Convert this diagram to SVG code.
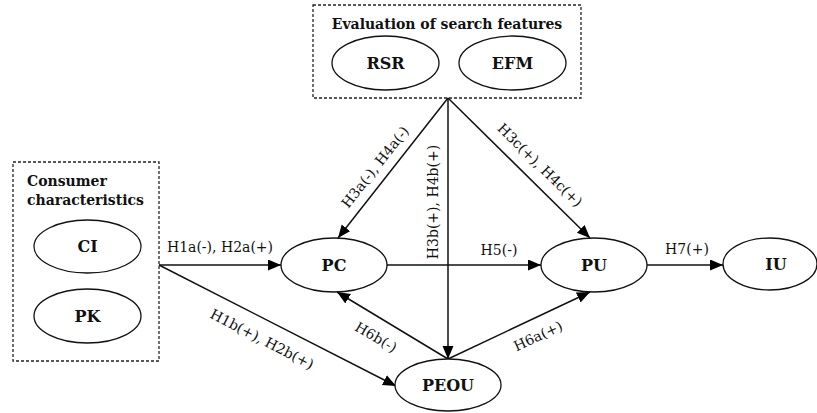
<svg xmlns="http://www.w3.org/2000/svg" width="817" height="413" viewBox="0 0 817 413">
  <style>
    .frame { fill: none; stroke: #222; stroke-width: 1.3; stroke-dasharray: 3 2; }
    .node ellipse { fill: #fff; stroke: #111; stroke-width: 1.3; }
    .node text { font-family: "DejaVu Serif", "Liberation Serif", serif; font-weight: bold; font-size: 16px; text-anchor: middle; fill: #111; }
    .title { font-family: "DejaVu Serif", "Liberation Serif", serif; font-weight: bold; font-size: 14px; fill: #111; }
    .edge { fill: none; stroke: #111; stroke-width: 1.5; marker-end: url(#arrow); }
    .lbl { font-family: "DejaVu Serif", "Liberation Serif", serif; font-size: 14px; text-anchor: middle; fill: #111; }
  </style>
  <defs>
    <marker id="arrow" markerUnits="userSpaceOnUse" markerWidth="14" markerHeight="12" refX="13" refY="5.5" orient="auto">
      <path d="M0,0 L13,5.5 L0,11 z" fill="#000"/>
    </marker>
  </defs>
  <rect width="817" height="413" fill="#fff"/>

  <!-- group frames -->
  <g id="search-features">
    <rect class="frame" x="313" y="5" width="268" height="93"/>
    <text class="title" x="447" y="29" text-anchor="middle">Evaluation of search features</text>
  </g>
  <g id="consumer-characteristics">
    <rect class="frame" x="13" y="162" width="146" height="199"/>
    <text class="title" x="27" y="186">Consumer</text>
    <text class="title" x="27" y="205">characteristics</text>
  </g>

  <!-- connectors -->
  <g id="connectors">
    <line class="edge" x1="159" y1="265" x2="281" y2="265"/>
    <line class="edge" x1="159" y1="265" x2="396" y2="386"/>
    <line class="edge" x1="448" y1="98" x2="338" y2="238"/>
    <line class="edge" x1="448" y1="98" x2="448" y2="359"/>
    <line class="edge" x1="448" y1="98" x2="590" y2="238"/>
    <line class="edge" x1="387" y1="265" x2="541" y2="265"/>
    <line class="edge" x1="448" y1="359" x2="337" y2="292"/>
    <line class="edge" x1="448" y1="359" x2="590" y2="292"/>
    <line class="edge" x1="647" y1="265" x2="723" y2="265"/>

    <text class="lbl" x="220" y="252">H1a(-), H2a(+)</text>
    <text class="lbl" transform="translate(262,339) rotate(27.3)" y="5">H1b(+), H2b(+)</text>
    <text class="lbl" transform="translate(375,167) rotate(-51.6)" y="5">H3a(-), H4a(-)</text>
    <text class="lbl" transform="translate(433,202) rotate(-90)" y="5">H3b(+), H4b(+)</text>
    <text class="lbl" transform="translate(540,165) rotate(44.4)" y="5">H3c(+), H4c(+)</text>
    <text class="lbl" x="499" y="255">H5(-)</text>
    <text class="lbl" transform="translate(376,337) rotate(30.7)" y="5">H6b(-)</text>
    <text class="lbl" transform="translate(538,336) rotate(-24.9)" y="5">H6a(+)</text>
    <text class="lbl" x="687" y="254">H7(+)</text>
  </g>

  <!-- constructs -->
  <g id="RSR" class="node">
    <ellipse cx="385.5" cy="63" rx="53.5" ry="27"/>
    <text x="385.5" y="69">RSR</text>
  </g>
  <g id="EFM" class="node">
    <ellipse cx="512.5" cy="63" rx="53.5" ry="27"/>
    <text x="512.5" y="69">EFM</text>
  </g>
  <g id="CI" class="node">
    <ellipse cx="87.5" cy="246.5" rx="53.5" ry="26.5"/>
    <text x="87.5" y="252">CI</text>
  </g>
  <g id="PK" class="node">
    <ellipse cx="87.5" cy="316" rx="53.5" ry="27"/>
    <text x="87.5" y="322">PK</text>
  </g>
  <g id="PC" class="node">
    <ellipse cx="334" cy="265" rx="53" ry="27"/>
    <text x="334" y="271">PC</text>
  </g>
  <g id="PU" class="node">
    <ellipse cx="594" cy="265" rx="53" ry="27"/>
    <text x="594" y="271">PU</text>
  </g>
  <g id="IU" class="node">
    <ellipse cx="770" cy="264" rx="47" ry="26"/>
    <text x="776" y="270">IU</text>
  </g>
  <g id="PEOU" class="node">
    <ellipse cx="448" cy="385" rx="53" ry="26"/>
    <text x="448" y="391">PEOU</text>
  </g>
</svg>
